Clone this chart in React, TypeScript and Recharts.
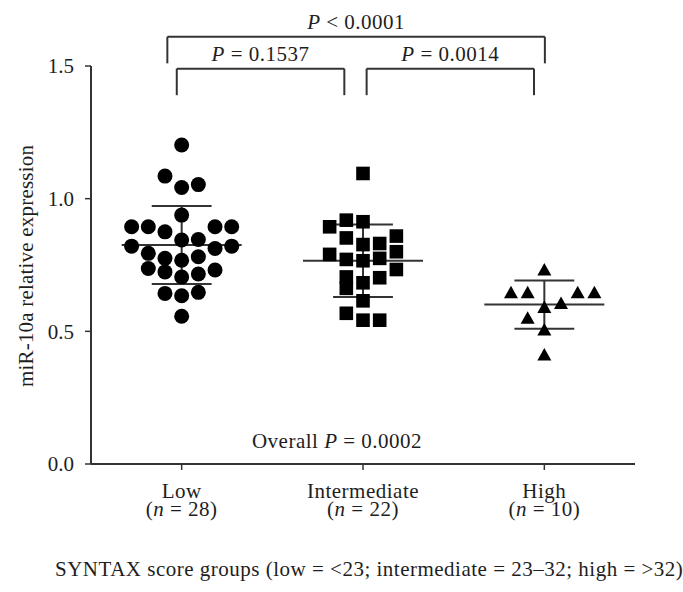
import React from "react";
import { ScatterChart, Scatter, XAxis, YAxis, ReferenceLine } from "recharts";

// groups on the x axis
const GROUPS = ["Low", "Intermediate", "High"];
const GROUP_N = [28, 22, 10];

// miR-10a relative expression of every patient
const LOW_VALUES = [1.202, 1.085, 1.042, 1.053, 0.938, 0.894, 0.894, 0.894, 0.894, 0.875, 0.844, 0.846, 0.821, 0.821, 0.812, 0.794, 0.775, 0.768, 0.781, 0.737, 0.724, 0.705, 0.716, 0.731, 0.643, 0.634, 0.647, 0.557];
const INT_VALUES = [1.095, 0.894, 0.919, 0.913, 0.852, 0.827, 0.831, 0.859, 0.79, 0.771, 0.766, 0.775, 0.8, 0.733, 0.705, 0.662, 0.702, 0.683, 0.615, 0.568, 0.542, 0.542];
const HIGH_VALUES = [0.731, 0.645, 0.645, 0.645, 0.645, 0.59, 0.605, 0.549, 0.505, 0.411];

// swarm column of each dot (the plot spreads close values sideways)
const LOW_COLS = [0, -1, 0, 1, 0, -3, -2, 2, 3, -1, 0, 1, -3, 3, 2, -2, -1, 0, 1, -2, -1, 0, 1, 2, -1, 0, 1, 0];
const INT_COLS = [0, -2, -1, 0, -1, 0, 1, 2, -2, -1, 0, 1, 2, 2, -1, -1, 1, 0, 0, -1, 0, 1];
const HIGH_COLS = [0, -2, -1, 2, 3, 0, 1, -1, 0, 0];

// mean +- SD drawn for each group
const MEANS = [0.825, 0.766, 0.601];
const SDS = [0.147, 0.137, 0.091];

// p values
const PAIR_P = ["= 0.1537", "= 0.0014", "< 0.0001"];
const OVERALL_P = "= 0.0002";

const FONT = "'Liberation Serif', 'DejaVu Serif', serif";
const INK = "#1e1e1e";
const LINE = "#333";
const SPACING = 0.5;
const COL_W = 0.092; // one swarm column in x units

const toPoints = (values: number[], cols: number[], g: number) =>
    values.map((v, i) => ({ x: g + cols[i] * COL_W, y: v }));

const lowData = toPoints(LOW_VALUES, LOW_COLS, 0);
const intData = toPoints(INT_VALUES, INT_COLS, 1);
const highData = toPoints(HIGH_VALUES, HIGH_COLS, 2);

// brackets above the plot (x / y in data units)
const BRACKETS = [
    { x1: -0.027, x2: 0.897, top: 1.49, foot: 1.39, text: PAIR_P[0] },
    { x1: 1.02, x2: 1.943, top: 1.49, foot: 1.39, text: PAIR_P[1] },
    { x1: -0.079, x2: 2.003, top: 1.61, foot: 1.51, text: PAIR_P[2] },
];

const Circle = (p: any) => <circle cx={p.cx} cy={p.cy} r={7.5} fill="#000" />;
const Square = (p: any) => <rect x={p.cx - 6.8} y={p.cy - 6.8} width={13.6} height={13.6} fill="#000" />;
const Triangle = (p: any) => (
    <polygon points={`${p.cx},${p.cy - 7} ${p.cx - 7},${p.cy + 5.5} ${p.cx + 7},${p.cy + 5.5}`} fill="#000" />
);

const GroupTick = ({ x, y, payload }: any) => {
    const i = Math.round(payload.value);
    return (
        <g fontFamily={FONT} fontSize={21} fill={INK} letterSpacing={SPACING}>
            <text x={x} y={y + 26} textAnchor="middle">{GROUPS[i]}</text>
            <text x={x} y={y + 44} textAnchor="middle">
                (<tspan fontStyle="italic">n</tspan>{" = " + GROUP_N[i] + ")"}
            </text>
        </g>
    );
};

const PLabel = ({ viewBox, text }: any) => {
    const { x, y, width } = viewBox;
    return (
        <text x={x + width / 2} y={y - 8} textAnchor="middle" fontFamily={FONT} fontSize={21} fill={INK}
            letterSpacing={SPACING}>
            <tspan fontStyle="italic">P</tspan>{" " + text}
        </text>
    );
};

export default function App() {
    const meanLines: React.ReactNode[] = [];
    MEANS.forEach((m, g) => {
        const sd = SDS[g];
        const segs = [
            [{ x: g - 0.331, y: m }, { x: g + 0.331, y: m }],
            [{ x: g - 0.165, y: m + sd }, { x: g + 0.165, y: m + sd }],
            [{ x: g - 0.165, y: m - sd }, { x: g + 0.165, y: m - sd }],
            [{ x: g, y: m - sd }, { x: g, y: m + sd }],
        ];
        segs.forEach((s, k) =>
            meanLines.push(<ReferenceLine key={`m-${g}-${k}`} segment={s} stroke={LINE} strokeWidth={2} />)
        );
    });

    const bracketLines: React.ReactNode[] = [];
    BRACKETS.forEach((b, i) => {
        bracketLines.push(
            <ReferenceLine key={`b-${i}-h`} ifOverflow="visible" stroke={LINE} strokeWidth={2}
                segment={[{ x: b.x1, y: b.top }, { x: b.x2, y: b.top }]}
                label={<PLabel text={b.text} />} />,
            <ReferenceLine key={`b-${i}-l`} ifOverflow="visible" stroke={LINE} strokeWidth={2}
                segment={[{ x: b.x1, y: b.top }, { x: b.x1, y: b.foot }]} />,
            <ReferenceLine key={`b-${i}-r`} ifOverflow="visible" stroke={LINE} strokeWidth={2}
                segment={[{ x: b.x2, y: b.top }, { x: b.x2, y: b.foot }]} />
        );
    });

    return (
        <div style={{ position: "absolute", left: 0, top: 0, width: 683, height: 592, background: "#fff" }}>
            <ScatterChart width={683} height={592} margin={{ top: 66, right: 48, bottom: 68, left: 0 }}>
                <XAxis type="number" dataKey="x" domain={[-0.5, 2.5]} ticks={[0, 1, 2]} interval={0}
                    allowDataOverflow height={60} tick={<GroupTick />} tickSize={6}
                    axisLine={{ stroke: LINE, strokeWidth: 2 }} tickLine={{ stroke: LINE, strokeWidth: 1.5 }} />
                <YAxis type="number" dataKey="y" domain={[0, 1.5]} ticks={[0, 0.5, 1, 1.5]} allowDataOverflow
                    width={91} tickSize={6} tickMargin={11} tickFormatter={(v: number) => v.toFixed(1)}
                    tick={{ fontFamily: FONT, fontSize: 21, fill: INK }}
                    axisLine={{ stroke: LINE, strokeWidth: 2 }} tickLine={{ stroke: LINE, strokeWidth: 1.5 }} />
                <Scatter data={lowData} shape={Circle} isAnimationActive={false} />
                <Scatter data={intData} shape={Square} isAnimationActive={false} />
                <Scatter data={highData} shape={Triangle} isAnimationActive={false} />
                {meanLines}
                {bracketLines}
                <text x={337} y={448} textAnchor="middle" fontFamily={FONT} fontSize={21} fill={INK}
                    letterSpacing={SPACING}>
                    {"Overall "}<tspan fontStyle="italic">P</tspan>{" " + OVERALL_P}
                </text>
                <text transform="translate(33,266) rotate(-90)" textAnchor="middle" fontFamily={FONT} fontSize={21}
                    fill={INK} letterSpacing={0.2}>
                    miR-10a relative expression
                </text>
                <text x={55} y={576} fontFamily={FONT} fontSize={21} fill={INK} letterSpacing={SPACING}>
                    SYNTAX score groups (low = &lt;23; intermediate = 23–32; high = &gt;32)
                </text>
            </ScatterChart>
        </div>
    );
}
